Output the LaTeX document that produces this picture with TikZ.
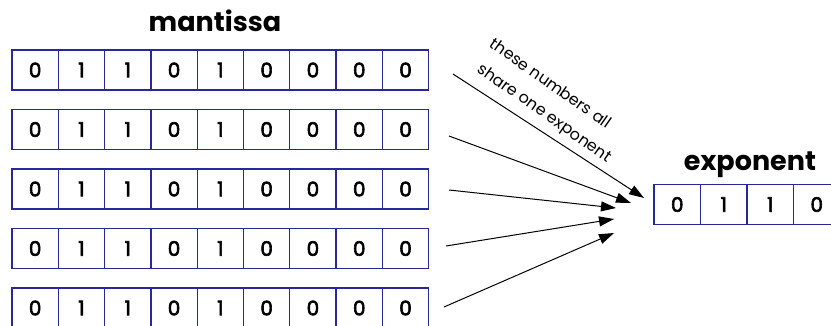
\documentclass[tikz,border=0pt]{standalone}
\usepackage{fontspec}
\setmainfont{Poppins}
\newfontfamily\digitfont[FakeBold=3]{Poppins}
\usetikzlibrary{arrows.meta}
\definecolor{cellblue}{RGB}{40,40,150}
\begin{document}
\begin{tikzpicture}[x=1pt,y=-1pt,
  cell/.style={draw=cellblue,line width=1.3pt,minimum width=46.3pt,minimum height=40pt,inner sep=0pt,font=\digitfont\fontsize{20}{20}\selectfont},
  title/.style={font=\fontsize{27}{27}\selectfont\bfseries,anchor=base},
  note/.style={font=\fontsize{16}{16}\selectfont,rotate=-35,inner sep=0pt},
  arr/.style={line width=1pt,-{Triangle[length=15pt,width=10pt]}}]
\useasboundingbox (0,0) rectangle (831,325);
\clip (0,0) rectangle (831,325);
\foreach \r/\y in {1/70,2/129.5,3/189,4/248.5,5/308} {
  \foreach \d [count=\c] in {0,1,1,0,1,0,0,0,0} {
    \node[cell] (m\r-\c) at ({12+46.3*(\c-0.5)},\y) {\d};
  }
}
\foreach \d [count=\c] in {0,1,1,0} {
  \node[cell] (e\c) at ({654+46.5*(\c-0.5)},204.5) {\d};
}
\node[title] (mant) at (215,31) {mantissa};
\node[title] (expo) at (750,170) {exponent};
\node[note] (n1) at (551,83) {these numbers all};
\node[note] (n2) at (544,114) {share one exponent};
\coordinate (s1) at (453,74);  \coordinate (t1) at (644,198);
\coordinate (s2) at (449,136); \coordinate (t2) at (631,203);
\coordinate (s3) at (449,190); \coordinate (t3) at (616,208);
\coordinate (s4) at (446,246); \coordinate (t4) at (614,219);
\coordinate (s5) at (444,307); \coordinate (t5) at (614,233);
\foreach \i in {1,...,5} { \draw[arr] (s\i) -- (t\i); }
\end{tikzpicture}
\end{document}
